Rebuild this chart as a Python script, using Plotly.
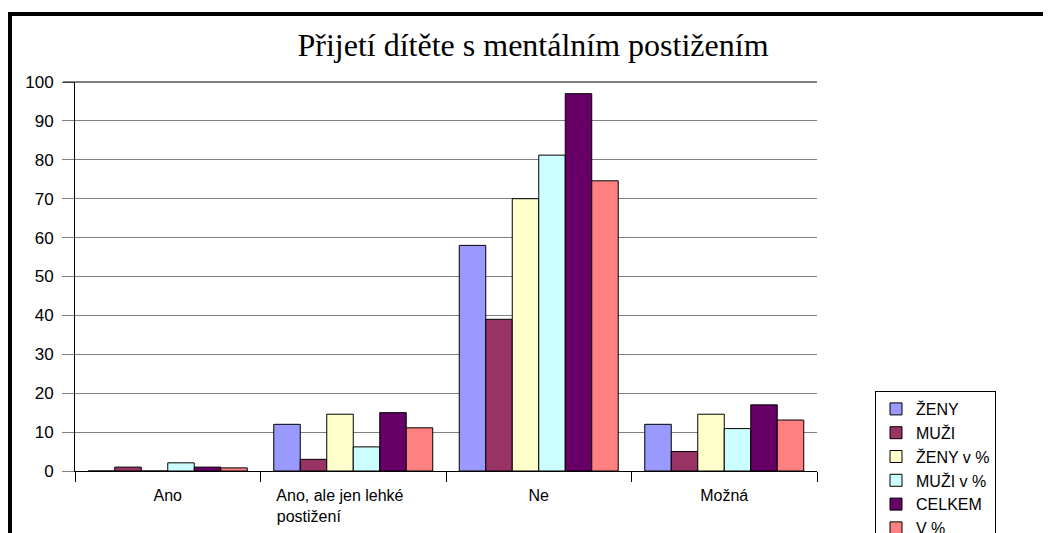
import plotly.graph_objects as go

categories = ["Ano", "Ano, ale jen lehké postižení", "Ne", "Možná"]
tick_labels = [
    "Ano",
    "Ano, ale jen lehké" + "\u00a0" * 6 + "<br>postižení" + "\u00a0" * 20,
    "Ne",
    "Možná",
]
zeny = [0, 12, 58, 12]
muzi = [1, 3, 39, 5]
zeny_pct = [0, 14.6, 70, 14.6]
muzi_pct = [2.1, 6.2, 81.2, 10.9]
celkem = [1, 15, 97, 17]
v_pct = [0.8, 11.1, 74.6, 13.1]

series = [
    ("ŽENY", zeny, "#9999FF"),
    ("MUŽI", muzi, "#993366"),
    ("ŽENY v %", zeny_pct, "#FFFFCC"),
    ("MUŽI v %", muzi_pct, "#CCFFFF"),
    ("CELKEM", celkem, "#660066"),
    ("V %", v_pct, "#FF8080"),
]

fig = go.Figure()
for name, vals, color in series:
    fig.add_trace(go.Bar(
        name=name, x=categories, y=vals,
        marker=dict(color=color, line=dict(color="#000000", width=1)),
    ))

# page body has an 8px margin, so work in page coords shifted by 8
OFF = 8
W, H = 1051 - OFF, 533 - OFF
L, R, T, B = 75 - OFF, 1051 - 817, 82 - OFF, 533 - 471
pw, ph = W - L - R, H - T - B

def px_x(x):
    return (x - OFF - L) / pw

def px_y(y):
    return (H - B - (y - OFF)) / ph

fig.update_layout(
    width=W, height=H,
    margin=dict(l=L, r=R, t=T, b=B, autoexpand=False),
    paper_bgcolor="white", plot_bgcolor="white",
    barmode="group", bargap=0.143, bargroupgap=0,
    font=dict(family="Liberation Sans, Arial", size=16, color="black"),
    title=dict(
        text="Přijetí dítěte s mentálním postižením",
        font=dict(family="Liberation Serif, Times New Roman", size=32, color="black"),
        x=(533 - OFF) / W, xanchor="center", xref="container",
        y=1 - (45 - OFF) / H, yanchor="middle", yref="container",
    ),
    xaxis=dict(
        showline=True, linecolor="black", linewidth=1,
        ticks="outside", tickson="boundaries", ticklen=10, tickcolor="black",
        showgrid=False, tickfont=dict(size=16), ticklabelstandoff=10,
        tickmode="array", tickvals=categories, ticktext=tick_labels,
    ),
    yaxis=dict(
        range=[0, 100], dtick=10, tick0=0,
        showline=True, linecolor="black", linewidth=1,
        ticks="outside", ticklen=12, tickcolor="#808080",
        showgrid=True, gridcolor="#808080", gridwidth=1,
        zeroline=False, tickfont=dict(size=17), ticklabelstandoff=5,
    ),
    legend=dict(
        x=px_x(875), y=px_y(391), xanchor="left", yanchor="top",
        bordercolor="black", borderwidth=1, bgcolor="white",
        font=dict(size=16), tracegroupgap=0, itemwidth=30,
    ),
    shapes=[
        dict(type="line", xref="x domain", yref="y domain",
             x0=px_x(63), x1=1, y0=1, y1=1,
             line=dict(color="black", width=1)),
        dict(type="rect", xref="paper", yref="paper",
             x0=px_x(10), x1=px_x(1070), y0=px_y(560), y1=px_y(14),
             line=dict(color="black", width=4), fillcolor="rgba(0,0,0,0)"),
    ],
)

fig.write_html("out.html")
